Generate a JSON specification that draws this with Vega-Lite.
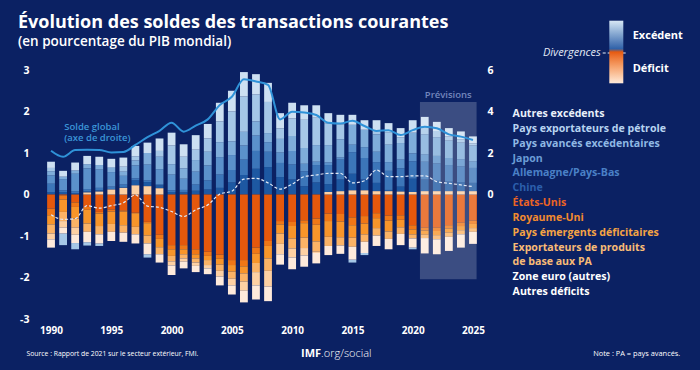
{
  "$schema": "https://vega.github.io/schema/vega-lite/v6.json",
  "autosize": {"type": "none"},
  "width": 444,
  "height": 249,
  "padding": {"left": 40, "top": 70, "right": 216, "bottom": 51},
  "background": "#0b2163",
  "title": {
    "text": "Évolution des soldes des transactions courantes",
    "subtitle": "(en pourcentage du PIB mondial)",
    "anchor": "start",
    "frame": "group",
    "font": "Open Sans",
    "fontSize": 18,
    "fontWeight": 700,
    "color": "#ffffff",
    "subtitleFont": "Open Sans",
    "subtitleFontSize": 13.5,
    "subtitleFontWeight": 600,
    "subtitleColor": "#ffffff",
    "subtitlePadding": 3,
    "offset": 0,
    "dx": -22,
    "dy": 28
  },
  "config": {
    "view": {"stroke": null},
    "font": "Open Sans",
    "axis": {"grid": false, "ticks": false, "domain": false, "labelColor": "#ffffff", "labelFont": "Open Sans", "labelFontWeight": 700, "labelFontSize": 10.5},
    "legend": {"labelColor": "#ffffff", "labelFont": "Open Sans"}
  },
  "datasets": {
    "cats": [
      {"code": "us", "cat": "États-Unis", "rang": 1},
      {"code": "uk", "cat": "Royaume-Uni", "rang": 2},
      {"code": "em", "cat": "Pays émergents déficitaires", "rang": 3},
      {"code": "co", "cat": "Exportateurs de produits de base aux PA", "rang": 4},
      {"code": "ez", "cat": "Zone euro (autres)", "rang": 5},
      {"code": "ad", "cat": "Autres déficits", "rang": 6},
      {"code": "cn", "cat": "Chine", "rang": 7},
      {"code": "de", "cat": "Allemagne/Pays-Bas", "rang": 8},
      {"code": "jp", "cat": "Japon", "rang": 9},
      {"code": "pa", "cat": "Pays avancés excédentaires", "rang": 10},
      {"code": "oil", "cat": "Pays exportateurs de pétrole", "rang": 11},
      {"code": "ae", "cat": "Autres excédents", "rang": 12}
    ]
  },
  "data": {
    "values": [
      {"year": 1990, "cn": 0.06, "de": 0.2, "jp": 0.2, "pa": 0.1, "oil": 0.08, "ae": 0.15, "us": -0.34, "uk": -0.16, "em": -0.22, "co": -0.22, "ez": -0.14, "ad": -0.2, "solde": 2.11, "div": -0.49},
      {"year": 1991, "cn": 0.06, "de": 0.04, "jp": 0.27, "pa": 0.06, "oil": -0.28, "ae": 0.14, "us": -0.02, "uk": -0.1, "em": -0.3, "co": -0.22, "ez": -0.16, "ad": -0.14, "solde": 1.82, "div": -0.6},
      {"year": 1992, "cn": 0.03, "de": 0.05, "jp": 0.42, "pa": 0.08, "oil": -0.15, "ae": 0.19, "us": -0.19, "uk": -0.11, "em": -0.28, "co": -0.22, "ez": -0.17, "ad": -0.2, "solde": 2.14, "div": -0.58},
      {"year": 1993, "cn": 0.02, "de": 0.06, "jp": 0.5, "pa": 0.1, "oil": -0.08, "ae": 0.2, "us": -0.3, "uk": -0.07, "em": -0.33, "co": -0.2, "ez": 0.05, "ad": -0.25, "solde": 2.16, "div": -0.27},
      {"year": 1994, "cn": 0.03, "de": 0.06, "jp": 0.44, "pa": 0.11, "oil": -0.06, "ae": 0.2, "us": -0.42, "uk": -0.04, "em": -0.3, "co": -0.2, "ez": 0.07, "ad": -0.22, "solde": 2.15, "div": -0.33},
      {"year": 1995, "cn": 0.01, "de": 0.06, "jp": 0.35, "pa": 0.1, "oil": 0.02, "ae": 0.2, "us": -0.36, "uk": -0.05, "em": -0.3, "co": -0.19, "ez": 0.12, "ad": -0.22, "solde": 2.03, "div": -0.27},
      {"year": 1996, "cn": 0.02, "de": 0.06, "jp": 0.21, "pa": 0.1, "oil": 0.12, "ae": 0.22, "us": -0.38, "uk": -0.03, "em": -0.33, "co": -0.18, "ez": 0.16, "ad": -0.22, "solde": 2.05, "div": -0.2},
      {"year": 1997, "cn": 0.12, "de": 0.05, "jp": 0.31, "pa": 0.12, "oil": 0.1, "ae": 0.25, "us": -0.44, "uk": -0.01, "em": -0.33, "co": -0.18, "ez": 0.22, "ad": -0.22, "solde": 2.39, "div": -0.01},
      {"year": 1998, "cn": 0.1, "de": 0.04, "jp": 0.38, "pa": 0.28, "oil": -0.08, "ae": 0.25, "us": -0.66, "uk": -0.03, "em": -0.3, "co": -0.19, "ez": 0.2, "ad": -0.26, "solde": 2.76, "div": -0.28},
      {"year": 1999, "cn": 0.07, "de": 0.03, "jp": 0.36, "pa": 0.3, "oil": 0.14, "ae": 0.3, "us": -0.97, "uk": -0.1, "em": -0.2, "co": -0.17, "ez": 0.15, "ad": -0.2, "solde": 3.07, "div": -0.31},
      {"year": 2000, "cn": 0.06, "de": 0.04, "jp": 0.38, "pa": 0.25, "oil": 0.45, "ae": 0.31, "us": -1.22, "uk": -0.1, "em": -0.16, "co": -0.13, "ez": -0.1, "ad": -0.23, "solde": 3.46, "div": -0.41},
      {"year": 2001, "cn": 0.05, "de": 0.06, "jp": 0.27, "pa": 0.25, "oil": 0.28, "ae": 0.3, "us": -1.22, "uk": -0.1, "em": -0.12, "co": -0.1, "ez": -0.08, "ad": -0.16, "solde": 3.03, "div": -0.53},
      {"year": 2002, "cn": 0.09, "de": 0.15, "jp": 0.31, "pa": 0.28, "oil": 0.25, "ae": 0.35, "us": -1.32, "uk": -0.12, "em": -0.1, "co": -0.1, "ez": -0.08, "ad": -0.15, "solde": 3.32, "div": -0.37},
      {"year": 2003, "cn": 0.12, "de": 0.22, "jp": 0.36, "pa": 0.33, "oil": 0.32, "ae": 0.35, "us": -1.38, "uk": -0.1, "em": -0.1, "co": -0.12, "ez": -0.08, "ad": -0.14, "solde": 3.62, "div": -0.25},
      {"year": 2004, "cn": 0.16, "de": 0.32, "jp": 0.42, "pa": 0.36, "oil": 0.5, "ae": 0.45, "us": -1.45, "uk": -0.1, "em": -0.14, "co": -0.15, "ez": -0.14, "ad": -0.21, "solde": 4.31, "div": 0.01},
      {"year": 2005, "cn": 0.29, "de": 0.3, "jp": 0.36, "pa": 0.33, "oil": 0.72, "ae": 0.5, "us": -1.58, "uk": -0.12, "em": -0.16, "co": -0.17, "ez": -0.16, "ad": -0.22, "solde": 4.71, "div": 0.08},
      {"year": 2006, "cn": 0.47, "de": 0.37, "jp": 0.34, "pa": 0.33, "oil": 0.85, "ae": 0.59, "us": -1.58, "uk": -0.15, "em": -0.17, "co": -0.2, "ez": -0.22, "ad": -0.28, "solde": 5.55, "div": 0.37},
      {"year": 2007, "cn": 0.62, "de": 0.43, "jp": 0.37, "pa": 0.34, "oil": 0.65, "ae": 0.49, "us": -1.28, "uk": -0.15, "em": -0.22, "co": -0.22, "ez": -0.32, "ad": -0.34, "solde": 5.45, "div": 0.39},
      {"year": 2008, "cn": 0.66, "de": 0.37, "jp": 0.23, "pa": 0.22, "oil": 0.75, "ae": 0.46, "us": -1.12, "uk": -0.12, "em": -0.3, "co": -0.3, "ez": -0.38, "ad": -0.35, "solde": 5.28, "div": 0.28},
      {"year": 2009, "cn": 0.42, "de": 0.34, "jp": 0.25, "pa": 0.33, "oil": 0.25, "ae": 0.37, "us": -0.64, "uk": -0.08, "em": -0.22, "co": -0.25, "ez": -0.25, "ad": -0.25, "solde": 3.62, "div": 0.13},
      {"year": 2010, "cn": 0.36, "de": 0.36, "jp": 0.33, "pa": 0.36, "oil": 0.42, "ae": 0.38, "us": -0.66, "uk": -0.1, "em": -0.3, "co": -0.24, "ez": -0.22, "ad": -0.28, "solde": 3.99, "div": 0.25},
      {"year": 2011, "cn": 0.2, "de": 0.36, "jp": 0.18, "pa": 0.38, "oil": 0.68, "ae": 0.35, "us": -0.62, "uk": -0.07, "em": -0.35, "co": -0.25, "ez": -0.18, "ad": -0.27, "solde": 3.95, "div": 0.43},
      {"year": 2012, "cn": 0.29, "de": 0.42, "jp": 0.08, "pa": 0.4, "oil": 0.66, "ae": 0.3, "us": -0.58, "uk": -0.15, "em": -0.4, "co": -0.25, "ez": -0.03, "ad": -0.25, "solde": 3.83, "div": 0.47},
      {"year": 2013, "cn": 0.19, "de": 0.46, "jp": 0.06, "pa": 0.42, "oil": 0.52, "ae": 0.25, "us": -0.46, "uk": -0.18, "em": -0.38, "co": -0.22, "ez": 0.06, "ad": -0.22, "solde": 3.46, "div": 0.51},
      {"year": 2014, "cn": 0.28, "de": 0.48, "jp": 0.05, "pa": 0.44, "oil": 0.36, "ae": 0.23, "us": -0.47, "uk": -0.18, "em": -0.38, "co": -0.2, "ez": 0.08, "ad": -0.2, "solde": 3.42, "div": 0.51},
      {"year": 2015, "cn": 0.4, "de": 0.52, "jp": 0.18, "pa": 0.48, "oil": -0.07, "ae": 0.24, "us": -0.55, "uk": -0.19, "em": -0.3, "co": -0.22, "ez": 0.1, "ad": -0.31, "solde": 3.56, "div": 0.28},
      {"year": 2016, "cn": 0.26, "de": 0.52, "jp": 0.26, "pa": 0.42, "oil": -0.05, "ae": 0.23, "us": -0.52, "uk": -0.18, "em": -0.26, "co": -0.18, "ez": 0.1, "ad": -0.27, "solde": 3.3, "div": 0.33},
      {"year": 2017, "cn": 0.2, "de": 0.5, "jp": 0.25, "pa": 0.42, "oil": 0.1, "ae": 0.24, "us": -0.45, "uk": -0.12, "em": -0.24, "co": -0.18, "ez": 0.08, "ad": -0.25, "solde": 3.06, "div": 0.59},
      {"year": 2018, "cn": 0.03, "de": 0.46, "jp": 0.21, "pa": 0.42, "oil": 0.3, "ae": 0.22, "us": -0.51, "uk": -0.12, "em": -0.26, "co": -0.18, "ez": 0.08, "ad": -0.25, "solde": 3.1, "div": 0.43},
      {"year": 2019, "cn": 0.12, "de": 0.44, "jp": 0.21, "pa": 0.4, "oil": 0.14, "ae": 0.22, "us": -0.5, "uk": -0.11, "em": -0.18, "co": -0.16, "ez": 0.07, "ad": -0.27, "solde": 2.87, "div": 0.43},
      {"year": 2020, "cn": 0.32, "de": 0.42, "jp": 0.19, "pa": 0.5, "oil": -0.04, "ae": 0.3, "us": -0.74, "uk": -0.1, "em": -0.12, "co": -0.1, "ez": 0.06, "ad": -0.22, "solde": 3.1, "div": 0.45},
      {"year": 2021, "cn": 0.28, "de": 0.43, "jp": 0.18, "pa": 0.48, "oil": 0.18, "ae": 0.24, "us": -0.8, "uk": -0.07, "em": -0.1, "co": -0.08, "ez": 0.08, "ad": -0.37, "solde": 3.27, "div": 0.45},
      {"year": 2022, "cn": 0.25, "de": 0.42, "jp": 0.18, "pa": 0.45, "oil": 0.15, "ae": 0.22, "us": -0.8, "uk": -0.08, "em": -0.1, "co": -0.1, "ez": 0.08, "ad": -0.36, "solde": 3.19, "div": 0.31},
      {"year": 2023, "cn": 0.23, "de": 0.4, "jp": 0.17, "pa": 0.42, "oil": 0.1, "ae": 0.2, "us": -0.74, "uk": -0.08, "em": -0.1, "co": -0.1, "ez": 0.08, "ad": -0.34, "solde": 2.9, "div": 0.27},
      {"year": 2024, "cn": 0.22, "de": 0.38, "jp": 0.17, "pa": 0.4, "oil": 0.08, "ae": 0.19, "us": -0.68, "uk": -0.08, "em": -0.1, "co": -0.1, "ez": 0.08, "ad": -0.32, "solde": 2.79, "div": 0.23},
      {"year": 2025, "cn": 0.2, "de": 0.36, "jp": 0.16, "pa": 0.38, "oil": 0.05, "ae": 0.17, "us": -0.63, "uk": -0.08, "em": -0.1, "co": -0.09, "ez": 0.08, "ad": -0.29, "solde": 2.63, "div": 0.19}
    ]
  },
  "layer": [
    {
      "layer": [
        {
          "transform": [
            {"fold": ["cn", "de", "jp", "pa", "oil", "ae", "us", "uk", "em", "co", "ez", "ad"], "as": ["code", "v"]},
            {"lookup": "code", "from": {"data": {"name": "cats"}, "key": "code", "fields": ["cat", "rang"]}}
          ],
          "mark": {"type": "bar", "width": 7.8, "orient": "vertical"},
          "encoding": {
            "x": {"field": "year", "type": "quantitative", "scale": {"domain": [1989.5, 2025.5], "nice": false, "zero": false},
              "axis": {"values": [1990, 1995, 2000, 2005, 2010, 2015, 2020, 2025], "format": "d", "title": null, "labelPadding": 6, "labelFontSize": 10, "labelFlush": false}},
            "y": {"field": "v", "type": "quantitative", "stack": "zero", "scale": {"domain": [-3, 3], "nice": false},
              "axis": {"values": [-3, -2, -1, 0, 1, 2, 3], "labelExpr": "'' + datum.value", "title": null, "labelPadding": 11}},
            "color": {"field": "cat", "type": "nominal",
              "scale": {
                "domain": ["Autres excédents", "Pays exportateurs de pétrole", "Pays avancés excédentaires", "Japon", "Allemagne/Pays-Bas", "Chine", "États-Unis", "Royaume-Uni", "Pays émergents déficitaires", "Exportateurs de produits de base aux PA", "Zone euro (autres)", "Autres déficits"],
                "range": ["#cde0f2", "#a5c7e7", "#7fadda", "#5b91cb", "#3c76b9", "#1d58a2", "#e5580c", "#f07716", "#f8952a", "#fbb366", "#fdd0a3", "#feeadb"]
              },
              "legend": {
                "orient": "none", "legendX": 462, "legendY": 38.5, "title": null,
                "symbolSize": 0, "symbolOpacity": 0, "symbolStrokeWidth": 0, "labelOffset": 0,
                "labelFont": "Open Sans", "labelFontSize": 10.6, "labelFontWeight": 700, "labelLimit": 300,
                "rowPadding": 3.9, "padding": 0,
                "labelExpr": "datum.label == 'Exportateurs de produits de base aux PA' ? ['Exportateurs de produits', '\u00a0\u00a0\u00a0de base aux PA'] : datum.label",
                "encode": {"labels": {"update": {
                  "fill": {"signal": "({'Autres excédents':'#e9f0fa','Pays exportateurs de pétrole':'#b7d3f0','Pays avancés excédentaires':'#8fb8e4','Japon':'#6a9cd6','Allemagne/Pays-Bas':'#4a80c6','Chine':'#2c5fac','États-Unis':'#ea6424','Royaume-Uni':'#f28a2e','Pays émergents déficitaires':'#f5a444','Exportateurs de produits de base aux PA':'#f8bb76','Zone euro (autres)':'#ffffff','Autres déficits':'#ffffff'})[datum.value]"},
                  "lineHeight": {"value": 13.8}
                }}}
              }
            },
            "order": {"field": "rang", "type": "quantitative"}
          }
        },
        {
          "data": {"values": [{}]},
          "mark": {"type": "rect", "color": "#ffffff", "opacity": 0.2},
          "encoding": {
            "x": {"datum": 2020.6, "type": "quantitative", "scale": {"domain": [1989.5, 2025.5], "nice": false, "zero": false}},
            "x2": {"datum": 2025.3},
            "y": {"datum": 2.23, "type": "quantitative", "scale": {"domain": [-3, 3], "nice": false}},
            "y2": {"datum": -2.04}
          }
        },
        {
          "data": {"values": [{}]},
          "mark": {"type": "text", "text": "Prévisions", "color": "#7386bd", "fontSize": 9.5, "font": "Open Sans", "fontWeight": 600},
          "encoding": {
            "x": {"datum": 2022.95, "type": "quantitative", "scale": {"domain": [1989.5, 2025.5], "nice": false, "zero": false}},
            "y": {"datum": 2.4, "type": "quantitative", "scale": {"domain": [-3, 3], "nice": false}}
          }
        },
        {
          "mark": {"type": "line", "color": "#e3e9f5", "strokeWidth": 1.2, "interpolate": "monotone"},
          "encoding": {
            "x": {"field": "year", "type": "quantitative", "scale": {"domain": [1989.5, 2025.5], "nice": false, "zero": false}},
            "y": {"field": "div", "type": "quantitative", "scale": {"domain": [-3, 3], "nice": false}},
            "strokeDash": {"datum": "Divergences", "type": "nominal", "scale": {"range": [[3, 2]]},
              "legend": {"orient": "none", "legendX": 561.7, "legendY": -30.5, "title": null, "symbolType": "stroke", "symbolSize": 625,
                "symbolStrokeColor": "#e8eef8", "symbolStrokeWidth": 1.2, "labelAlign": "right", "labelOffset": -28,
                "labelFontSize": 11, "labelFontStyle": "italic", "labelFontWeight": 400, "labelColor": "#e3e9f5", "padding": 0}}
          }
        },
        {
          "mark": {"type": "point", "size": 0, "filled": true, "opacity": 1},
          "encoding": {
            "x": {"field": "year", "type": "quantitative", "scale": {"domain": [1989.5, 2025.5], "nice": false, "zero": false}},
            "y": {"field": "div", "type": "quantitative", "scale": {"domain": [-3, 3], "nice": false}},
            "fill": {"field": "div", "type": "quantitative",
              "scale": {"domain": [0, 0.5, 0.5001, 1], "range": ["#feeadb", "#e65a10", "#17539f", "#d8e7f5"]},
              "legend": {"orient": "none", "legendX": 569.3, "legendY": -49.3, "direction": "vertical", "title": null,
                "gradientLength": 62.6, "gradientThickness": 14, "gradientStrokeWidth": 0, "gradientOpacity": 1,
                "values": [0.224, 0.756], "labelExpr": "datum.value > 0.5 ? 'Excédent' : 'Déficit'",
                "labelOffset": 9.4, "labelFontSize": 11, "labelFontWeight": 700, "labelColor": "#ffffff", "padding": 0,
                "encode": {"gradient": {"update": {"opacity": {"value": 1}}}}}}
          }
        },
        {
          "data": {"values": [{}]},
          "mark": {"type": "text", "text": ["Solde global", "(axe de droite)"], "align": "left", "baseline": "middle", "color": "#3c96d8", "fontSize": 9.5, "font": "Open Sans", "fontWeight": 600, "lineHeight": 11.5},
          "encoding": {
            "x": {"datum": 1991.1, "type": "quantitative", "scale": {"domain": [1989.5, 2025.5], "nice": false, "zero": false}},
            "y": {"datum": 1.63, "type": "quantitative", "scale": {"domain": [-3, 3], "nice": false}}
          }
        },
        {
          "data": {"values": [{}]},
          "mark": {"type": "text", "text": "Source : Rapport de 2021 sur le secteur extérieur, FMI.", "align": "left", "baseline": "middle", "color": "#ffffff", "fontSize": 6.8, "font": "Open Sans"},
          "encoding": {
            "x": {"datum": 1987.97, "type": "quantitative", "scale": {"domain": [1989.5, 2025.5], "nice": false, "zero": false}},
            "y": {"datum": -3.84, "type": "quantitative", "scale": {"domain": [-3, 3], "nice": false}}
          }
        },
        {
          "data": {"values": [{}]},
          "mark": {"type": "text", "text": "IMF", "align": "right", "baseline": "middle", "color": "#ffffff", "fontSize": 11, "font": "Open Sans", "fontWeight": 700},
          "encoding": {
            "x": {"datum": 2012.4, "type": "quantitative", "scale": {"domain": [1989.5, 2025.5], "nice": false, "zero": false}},
            "y": {"datum": -3.84, "type": "quantitative", "scale": {"domain": [-3, 3], "nice": false}}
          }
        },
        {
          "data": {"values": [{}]},
          "mark": {"type": "text", "text": ".org/social", "align": "left", "baseline": "middle", "color": "#ffffff", "fontSize": 11, "font": "Open Sans", "fontWeight": 300},
          "encoding": {
            "x": {"datum": 2012.4, "type": "quantitative", "scale": {"domain": [1989.5, 2025.5], "nice": false, "zero": false}},
            "y": {"datum": -3.84, "type": "quantitative", "scale": {"domain": [-3, 3], "nice": false}}
          }
        },
        {
          "data": {"values": [{}]},
          "mark": {"type": "text", "text": "Note : PA = pays avancés.", "align": "left", "baseline": "middle", "color": "#ffffff", "fontSize": 7.4, "font": "Open Sans"},
          "encoding": {
            "x": {"datum": 2034.97, "type": "quantitative", "scale": {"domain": [1989.5, 2025.5], "nice": false, "zero": false}},
            "y": {"datum": -3.84, "type": "quantitative", "scale": {"domain": [-3, 3], "nice": false}}
          }
        }
      ]
    },
    {
      "mark": {"type": "line", "color": "#2f92d8", "strokeWidth": 2, "interpolate": "monotone"},
      "encoding": {
        "x": {"field": "year", "type": "quantitative", "scale": {"domain": [1989.5, 2025.5], "nice": false, "zero": false}},
        "y": {"field": "solde", "type": "quantitative", "scale": {"domain": [-6, 6], "nice": false},
          "axis": {"orient": "right", "values": [0, 2, 4, 6], "title": null, "labelPadding": 3}}
      }
    }
  ],
  "resolve": {"scale": {"y": "independent"}}
}
